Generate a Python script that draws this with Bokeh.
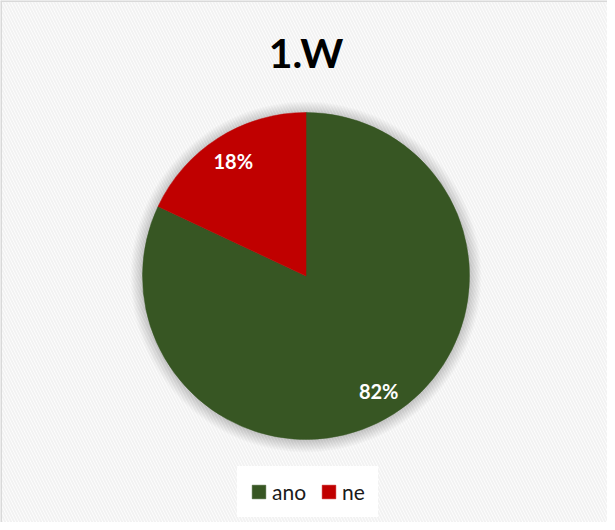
import numpy as np
from bokeh.plotting import figure
from bokeh.models import Range1d, ColumnDataSource, Legend, LegendItem, BoxAnnotation
from bokeh.core.properties import value
from bokeh.embed import file_html
from bokeh.resources import INLINE

# data
categories = ["ano", "ne"]
shares = [82, 18]
colors = ["#375623", "#C00000"]
title_text = "1.W"

W, H = 607, 522
cx, cy, r = 305.5, 246.5, 163.5

p = figure(width=W, height=H, output_backend="svg", toolbar_location=None,
           x_range=Range1d(0, W), y_range=Range1d(0, H), min_border=0,
           outline_line_color=None, background_fill_color="white",
           border_fill_color="white")
p.axis.visible = False
p.grid.visible = False

bg = BoxAnnotation(fill_color="white", fill_alpha=1.0, line_alpha=0,
                   hatch_pattern="left_diagonal_line", hatch_color="#f2f2f2",
                   hatch_scale=6, hatch_weight=2, level="underlay")
p.add_layout(bg)

# border (left, top)
p.segment(x0=[0.5, 0], y0=[0, H - 0.5], x1=[0.5, W], y1=[H, H - 0.5],
          line_color="#d9d9d9", line_width=2)

# title
p.text(x=[cx], y=[H - 52], text=[title_text], text_align="center",
       text_baseline="middle", text_font=value("Lato"), text_font_style="bold",
       text_font_size="41px", text_color="#000000")

# shadow
for k in range(1, 13):
    p.circle(x=[cx], y=[cy - 1], radius=r + k, fill_color="#000000",
             fill_alpha=0.016, line_color=None)

vals = np.array(shares, dtype=float)
frac = vals / vals.sum()
ang = 2 * np.pi * frac
ends = np.cumsum(ang)
starts = ends - ang
start_angle = np.pi / 2 - starts
end_angle = np.pi / 2 - ends
mid = (start_angle + end_angle) / 2

src = ColumnDataSource(dict(cat=categories, start=start_angle, end=end_angle,
                            color=colors,
                            lx=cx + 0.83 * r * np.cos(mid),
                            ly=cy + 0.83 * r * np.sin(mid),
                            lab=[f"{v:.0f}%" for v in vals]))

items = []
for i, c in enumerate(categories):
    w = p.wedge(x=cx, y=cy, radius=r, start_angle=start_angle[i],
                end_angle=end_angle[i], direction="clock",
                fill_color=colors[i], line_color=colors[i], line_width=0.5)
    items.append(LegendItem(label=c, renderers=[w]))

p.text(x="lx", y="ly", text="lab", source=src, text_align="center",
       text_baseline="middle", text_font=value("Lato"), text_font_style="bold",
       text_font_size="20px", text_color="white")

legend = Legend(items=items, orientation="horizontal", location=(237, 5),
                glyph_width=17, glyph_height=17, label_standoff=5, spacing=14,
                padding=13, margin=0, border_line_alpha=0,
                background_fill_color="white", background_fill_alpha=1.0,
                label_text_font="Lato", label_text_font_size="21px",
                label_text_color="#1a1a1a")
p.add_layout(legend)

open("out.html", "w").write(file_html(p, INLINE))
